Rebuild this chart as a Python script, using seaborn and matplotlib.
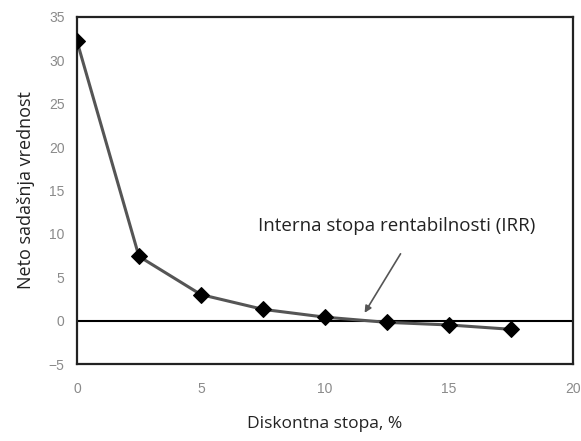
import matplotlib
matplotlib.use("Agg")
import matplotlib.pyplot as plt
import seaborn as sns
import pandas as pd

rates = [0, 2.5, 5, 7.5, 10, 12.5, 15, 17.5]
npv = [32.2, 7.4, 3.0, 1.3, 0.4, -0.2, -0.5, -1.0]
x_ticks = [0, 5, 10, 15, 20]
y_ticks = [-5, 0, 5, 10, 15, 20, 25, 30, 35]

sns.set_style("white")
plt.rcParams['font.family'] = ['Open Sans', 'DejaVu Sans']

df = pd.DataFrame({"rate": rates, "npv": npv})

fig = plt.figure(figsize=(5.81, 4.41), dpi=100)
ax = fig.add_axes([0.1325, 0.1746, 0.8535, 0.787])

ax.axhline(0, color="black", lw=1.5, zorder=1)
sns.lineplot(data=df, x="rate", y="npv", ax=ax, color="#555555", lw=2.2,
             marker="D", markersize=8, markerfacecolor="black",
             markeredgecolor="black", zorder=3)

ax.set_xlim(0, 20)
ax.set_ylim(-5, 35)
ax.set_xticks(x_ticks)
ax.set_yticks(y_ticks)
ax.tick_params(axis="both", direction="out", length=3, width=1,
               colors="#888888", labelsize=10, labelcolor="#8a8a8a")
ax.tick_params(axis="x", pad=10)
ax.tick_params(axis="y", pad=6)
for lbl in ax.get_xticklabels() + ax.get_yticklabels():
    lbl.set_fontfamily(["Liberation Sans", "DejaVu Sans"])
for s in ax.spines.values():
    s.set_color("#222222")
    s.set_linewidth(1.6)

ax.set_xlabel("Diskontna stopa, %", fontsize=12.5, labelpad=14, color="#222222")
ax.set_ylabel("Neto sadašnja vrednost", fontsize=13, labelpad=10, color="#222222")

ax.text(12.9, 10.9, "Interna stopa rentabilnosti (IRR)", ha="center", va="center",
        fontsize=13.5, color="#222222")
ax.annotate("", xy=(11.6, 0.9), xytext=(13.05, 7.7),
            arrowprops=dict(arrowstyle="-|>", color="#555555", lw=1.2,
                            shrinkA=0, shrinkB=0))

fig.savefig("out.png", dpi=100)
